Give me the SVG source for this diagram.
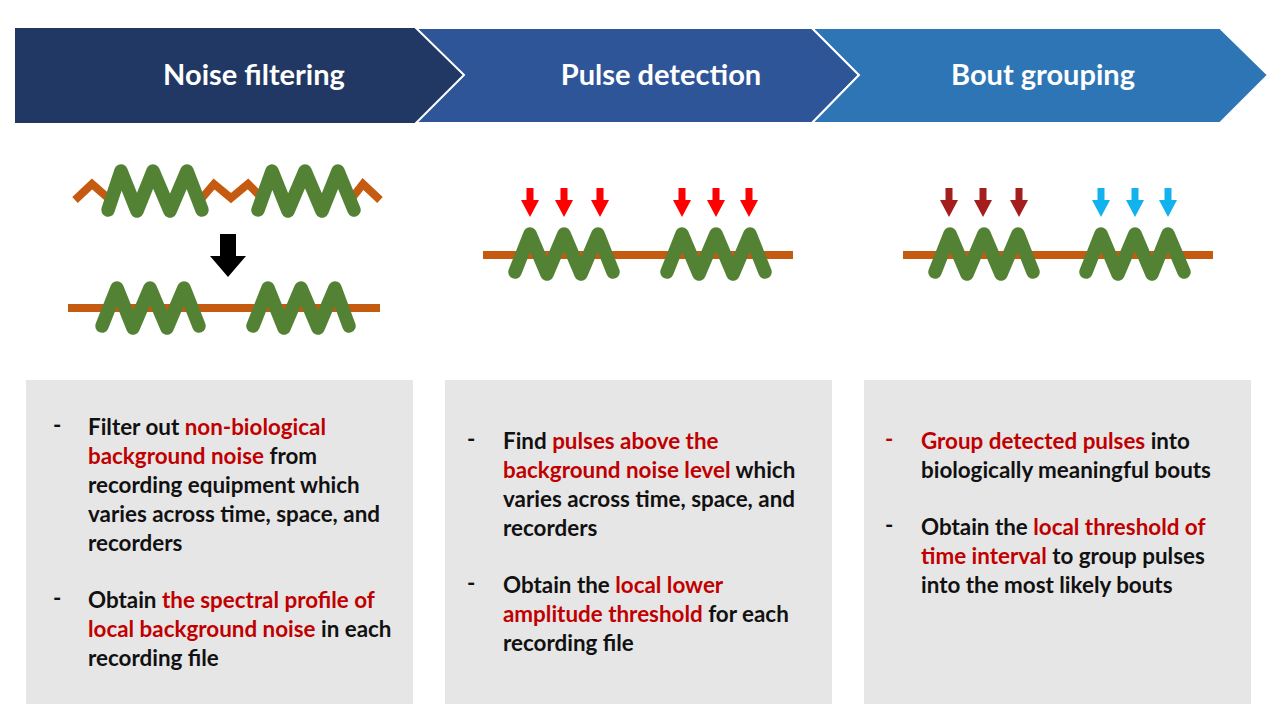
<svg xmlns="http://www.w3.org/2000/svg" width="1280" height="720" viewBox="0 0 1280 720">
<defs>
<style>
.hdr{font-family:Lato,"Liberation Sans",sans-serif;font-weight:bold;font-size:29px;fill:#fff;text-anchor:middle}
.body{font-family:Lato,"Liberation Sans",sans-serif;font-weight:bold;font-size:22.4px;fill:#111}
.red{fill:#C00000}
.box{fill:#E7E6E6}
.grn{fill:none;stroke:#548235;stroke-width:13.5;stroke-linecap:round;stroke-linejoin:round}
.org{fill:none;stroke:#C55A11;stroke-width:8}
</style>
<path id="arr" d="M-3.5,0 H3.5 V12 H9 L0,29 L-9,12 H-3.5 Z"/>
</defs>
<rect width="1280" height="720" fill="#fff"/>

<g id="step1">
<path d="M15,28 H416 L464,75 L416,123 H15 Z" fill="#213864"/>
<text class="hdr" x="254" y="85">Noise filtering</text>
</g>
<g id="step2">
<path d="M416,28 H812 L859,75 L812,123 H416 L464,75 Z" fill="#2E5597" stroke="#fff" stroke-width="2"/>
<text class="hdr" x="661" y="85">Pulse detection</text>
</g>
<g id="step3">
<path d="M812,28 H1220 L1268,75 L1220,123 H812 L859,75 Z" fill="#2E75B6" stroke="#fff" stroke-width="2"/>
<text class="hdr" x="1043" y="85">Bout grouping</text>
</g>

<g id="wave1">
<path class="org" d="M75,200 L92,184 L108,198 M202,198 L214,184 L231,198 L248,184 L262,198 M352,198 L363,184 L380,200"/>
<path class="grn" d="M108,210 L121,171 L137,211 L153,171 L170,211 L187,171 L202,210"/>
<path class="grn" d="M258,210 L272,171 L288,211 L305,171 L322,211 L338,171 L354,210"/>
<path d="M220,234 H236 V256 H246 L228,277 L210,256 H220 Z" fill="#000"/>
<line class="org" x1="68" y1="308" x2="380" y2="308"/>
<path class="grn" d="M102,326 L117,288 L133,328 L150,288 L167,328 L184,288 L199,326"/>
<path class="grn" d="M253,326 L268,288 L284,328 L301,288 L318,328 L335,288 L349,326"/>
</g>

<g id="wave2">
<line class="org" x1="483" y1="255" x2="793" y2="255"/>
<path class="grn" d="M515,272 L530,234 L547,274 L564,234 L581,274 L598,234 L613,272"/>
<path class="grn" d="M667,272 L682,234 L699,274 L716,234 L733,274 L750,234 L765,272"/>
<g fill="#FF0000">
<use href="#arr" x="530" y="188"/><use href="#arr" x="564" y="188"/><use href="#arr" x="600" y="188"/>
<use href="#arr" x="682" y="188"/><use href="#arr" x="716" y="188"/><use href="#arr" x="749" y="188"/>
</g>
</g>

<g id="wave3">
<line class="org" x1="903" y1="255" x2="1213" y2="255"/>
<path class="grn" d="M935,272 L950,234 L967,274 L984,234 L1001,274 L1018,234 L1033,272"/>
<path class="grn" d="M1086,272 L1101,234 L1118,274 L1135,234 L1152,274 L1168,234 L1184,272"/>
<g fill="#A51E1E">
<use href="#arr" x="949" y="188"/><use href="#arr" x="983" y="188"/><use href="#arr" x="1019" y="188"/>
</g>
<g fill="#12B2EE">
<use href="#arr" x="1101" y="188"/><use href="#arr" x="1135" y="188"/><use href="#arr" x="1168" y="188"/>
</g>
</g>

<g id="box1">
<rect class="box" x="26" y="380" width="387" height="324"/>
<text class="body" x="53" y="433">-</text>
<text class="body" x="88" y="435">Filter out <tspan class="red">non-biological</tspan></text>
<text class="body" x="88" y="464"><tspan class="red">background noise</tspan> from</text>
<text class="body" x="88" y="493">recording equipment which</text>
<text class="body" x="88" y="522">varies across time, space, and</text>
<text class="body" x="88" y="551">recorders</text>
<text class="body" x="53" y="606">-</text>
<text class="body" x="88" y="608">Obtain <tspan class="red">the spectral profile of</tspan></text>
<text class="body" x="88" y="637"><tspan class="red">local background noise</tspan> in each</text>
<text class="body" x="88" y="666">recording file</text>
</g>

<g id="box2">
<rect class="box" x="445" y="380" width="387" height="324"/>
<text class="body" x="467" y="447">-</text>
<text class="body" x="503" y="449">Find <tspan class="red">pulses above the</tspan></text>
<text class="body" x="503" y="478"><tspan class="red">background noise level</tspan> which</text>
<text class="body" x="503" y="507">varies across time, space, and</text>
<text class="body" x="503" y="536">recorders</text>
<text class="body" x="467" y="591">-</text>
<text class="body" x="503" y="593">Obtain the <tspan class="red">local lower</tspan></text>
<text class="body" x="503" y="622"><tspan class="red">amplitude threshold</tspan> for each</text>
<text class="body" x="503" y="651">recording file</text>
</g>

<g id="box3">
<rect class="box" x="864" y="380" width="387" height="324"/>
<text class="body red" x="885" y="447">-</text>
<text class="body" x="921" y="449"><tspan class="red">Group detected pulses</tspan> into</text>
<text class="body" x="921" y="478">biologically meaningful bouts</text>
<text class="body" x="885" y="533">-</text>
<text class="body" x="921" y="535">Obtain the <tspan class="red">local threshold of</tspan></text>
<text class="body" x="921" y="564"><tspan class="red">time interval</tspan> to group pulses</text>
<text class="body" x="921" y="593">into the most likely bouts</text>
</g>
</svg>
